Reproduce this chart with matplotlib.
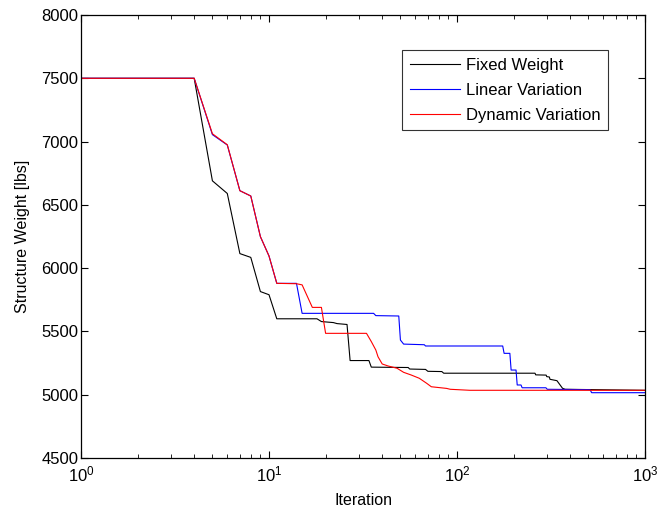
import matplotlib
matplotlib.use("Agg")
import matplotlib.pyplot as plt
from matplotlib.ticker import LogLocator, NullFormatter, MultipleLocator

plt.rcParams['font.family'] = ['Liberation Sans', 'DejaVu Sans']
plt.rcParams['mathtext.fontset'] = 'custom'
plt.rcParams['mathtext.rm'] = 'Liberation Sans'
plt.rcParams['mathtext.it'] = 'Liberation Sans'

# Fixed Weight
fixed_iter = [1, 4, 5, 6, 7, 8, 9, 10, 11, 18, 19, 22, 23, 26, 27, 34, 35, 55, 56,
              68, 70, 83, 85, 260, 262, 298, 300, 310, 312, 340, 364, 376, 1000]
fixed_val = [7500, 7500, 6690, 6590, 6115, 6085, 5815, 5790, 5600, 5600, 5578, 5570,
             5562, 5555, 5270, 5270, 5218, 5215, 5203, 5200, 5185, 5183, 5170, 5170,
             5157, 5155, 5143, 5140, 5122, 5111, 5051, 5043, 5035]

# Linear Variation
linear_iter = [1, 4, 5, 6, 7, 8, 9, 10, 11, 14, 15, 36, 37, 49, 50, 52, 67, 68, 175,
               178, 191, 194, 206, 209, 219, 222, 297, 302, 510, 520, 1000]
linear_val = [7500, 7500, 7055, 6973, 6612, 6570, 6249, 6096, 5880, 5880, 5643, 5643,
              5625, 5622, 5432, 5400, 5395, 5385, 5385, 5327, 5327, 5195, 5195, 5077,
              5077, 5055, 5055, 5043, 5040, 5016, 5016]

# Dynamic Variation
dynamic_iter = [1, 4, 5, 6, 7, 8, 9, 10, 11, 14, 15, 17, 19, 20, 33, 35, 37, 38, 40,
                43, 48, 52, 57, 63, 69, 73, 88, 92, 117, 1000]
dynamic_val = [7500, 7500, 7062, 6975, 6612, 6570, 6249, 6096, 5880, 5877, 5868, 5690,
               5690, 5485, 5485, 5420, 5353, 5300, 5243, 5227, 5209, 5177, 5156, 5130,
               5090, 5063, 5050, 5043, 5035, 5035]

labels = ['Fixed Weight', 'Linear Variation', 'Dynamic Variation']

fig = plt.figure(figsize=(6.59, 5.11), dpi=100)
ax = fig.add_axes([0.1229, 0.1037, 0.9788 - 0.1229, 0.9706 - 0.1037])

ax.plot(fixed_iter, fixed_val, color='black', lw=0.8, label=labels[0])
ax.plot(linear_iter, linear_val, color='#0000ff', lw=0.8, label=labels[1])
ax.plot(dynamic_iter, dynamic_val, color='#ff0000', lw=0.8, label=labels[2])

ax.set_xscale('log')
ax.set_xlim(1, 1000)
ax.set_ylim(4500, 8000)
ax.yaxis.set_major_locator(MultipleLocator(500))
ax.xaxis.set_major_locator(LogLocator(base=10, numticks=10))
ax.xaxis.set_minor_locator(LogLocator(base=10, subs=range(2, 10), numticks=10))
ax.xaxis.set_minor_formatter(NullFormatter())

ax.tick_params(which='both', direction='in', top=True, right=True, labelsize=12)
ax.tick_params(which='major', length=5, width=0.8)
ax.tick_params(which='minor', length=3, width=0.6)
ax.tick_params(axis='y', which='major', pad=2)
ax.tick_params(axis='x', which='major', pad=5)
for s in ax.spines.values():
    s.set_linewidth(0.9)

ax.set_xlabel('Iteration', fontsize=11.5, labelpad=6)
ax.set_ylabel('Structure Weight [lbs]', fontsize=11.5, labelpad=8)

leg = ax.legend(loc='upper right', bbox_to_anchor=(0.935, 0.921), fontsize=12,
                frameon=True, fancybox=False, edgecolor='black', handlelength=3.0,
                borderpad=0.45, labelspacing=0.6, handletextpad=0.4, borderaxespad=0)
leg.get_frame().set_linewidth(0.8)

fig.savefig('out.png', dpi=100)
